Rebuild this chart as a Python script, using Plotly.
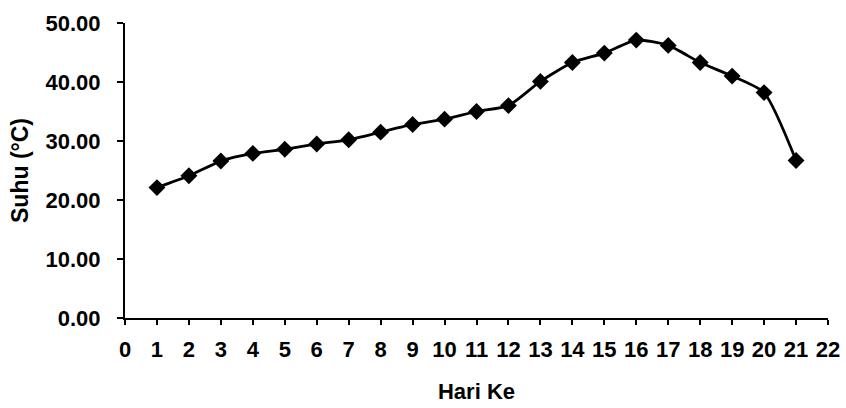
import plotly.graph_objects as go

hari = list(range(1, 22))
suhu = [22.1, 24.1, 26.6, 27.9, 28.6, 29.5, 30.2, 31.5, 32.8, 33.7, 35.0,
        36.0, 40.1, 43.3, 44.9, 47.1, 46.2, 43.3, 41.0, 38.2, 26.7]
x_ticks = list(range(0, 23))
y_ticks = [0, 10, 20, 30, 40, 50]
y_tick_text = [f"{v:.2f}" for v in y_ticks]

FONT = "Liberation Sans, Arial, sans-serif"

fig = go.Figure(
    go.Scatter(
        x=hari, y=suhu, mode="lines+markers",
        line=dict(color="black", width=2.8, shape="spline", smoothing=0.6),
        marker=dict(symbol="diamond", size=13, color="black"),
        showlegend=False,
    )
)

fig.update_layout(
    width=846, height=408,
    margin=dict(l=125, r=18, t=23, b=90),
    paper_bgcolor="white", plot_bgcolor="white",
    font=dict(family=FONT, color="black"),
)
fig.update_xaxes(
    range=[0, 22], tickvals=x_ticks, ticktext=[str(v) for v in x_ticks],
    showline=True, linecolor="black", linewidth=2,
    ticks="outside", ticklen=5, tickwidth=1.5, tickcolor="black",
    ticklabelstandoff=6, automargin=False,
    showgrid=False, zeroline=False,
    tickfont=dict(family=FONT, size=22, color="black", weight="bold"),
    title=dict(text="<b>Hari Ke</b>", font=dict(family=FONT, size=22, color="black"), standoff=22),
)
fig.update_yaxes(
    range=[0, 50], tickvals=y_ticks, ticktext=y_tick_text,
    showline=True, linecolor="black", linewidth=2,
    ticks="outside", ticklen=6, tickwidth=1.5, tickcolor="black",
    ticklabelstandoff=12, automargin=False,
    showgrid=False, zeroline=False,
    tickfont=dict(family=FONT, size=22, color="black", weight="bold"),
    title=dict(text="<b>Suhu (°C)</b>", font=dict(family=FONT, size=23, color="black"), standoff=10),
)

fig.write_html("out.html")
